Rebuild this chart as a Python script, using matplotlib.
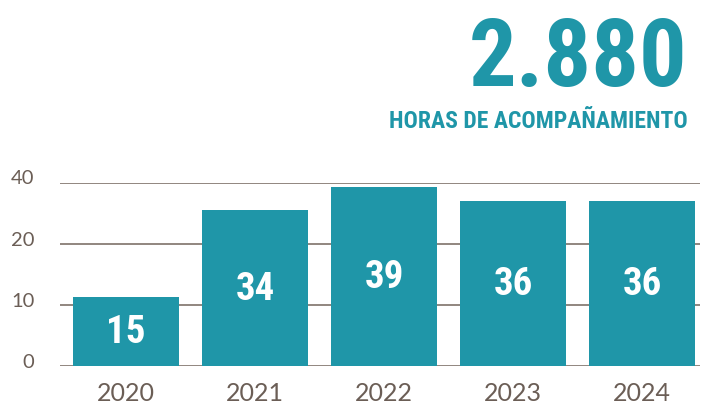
import matplotlib
matplotlib.use("Agg")
import matplotlib.pyplot as plt
import matplotlib.transforms as mtransforms

years = ["2020", "2021", "2022", "2023", "2024"]
values = [15, 34, 39, 36, 36]
tick_pos = [0, 40 / 3, 80 / 3, 40]
tick_labels = ["0", "10", "20", "40"]
total_text = "2.880"
subtitle = "HORAS DE ACOMPAÑAMIENTO"

teal = "#1f96a8"
grid_col = "#7e726a"
text_col = "#6b5e56"
narrow = ["Roboto Condensed", "DejaVu Sans"]

fig = plt.figure(figsize=(7.01, 4.06), dpi=100)
ax = fig.add_axes([60 / 701, 39 / 406, 640 / 701, 183.5 / 406])

x = range(len(years))
bars = ax.bar(x, values, width=0.82, color=teal, zorder=2)
for b, v in zip(bars, values):
    ax.text(b.get_x() + b.get_width() / 2, v / 2, str(v), ha="center", va="center",
            color="white", fontsize=28, fontweight="bold", family=narrow,
            fontstretch="condensed", zorder=3)

ax.set_xlim(-0.512, 4.45)
ax.set_ylim(0, 40)
for t in tick_pos:
    ax.axhline(t, color=grid_col, lw=1.2, zorder=1)

ax.set_yticks(tick_pos)
ax.set_yticklabels(tick_labels)
ax.set_xticks(list(x))
ax.set_xticklabels(years)
ax.tick_params(axis="y", length=0, pad=18.5, labelsize=14.5, labelcolor=text_col)
ax.tick_params(axis="x", length=0, pad=11, labelsize=18, labelcolor=text_col)
for lab in ax.get_yticklabels() + ax.get_xticklabels():
    lab.set_family("Lato")
# nudge the y labels a little above their lines
offset = mtransforms.ScaledTranslation(0, 6 / 100, fig.dpi_scale_trans)
for lab in ax.get_yticklabels():
    lab.set_transform(lab.get_transform() + offset)
for s in ax.spines.values():
    s.set_visible(False)

fig.text(688 / 701, 1 - 86 / 406, total_text, ha="right", va="baseline", color=teal,
         fontsize=68, fontweight="bold", family=narrow, fontstretch="condensed")
fig.text(688 / 701, 1 - 128 / 406, subtitle, ha="right", va="baseline", color=teal,
         fontsize=17, fontweight="bold", family=narrow, fontstretch="condensed")

fig.savefig("out.png", dpi=100, facecolor="white")
